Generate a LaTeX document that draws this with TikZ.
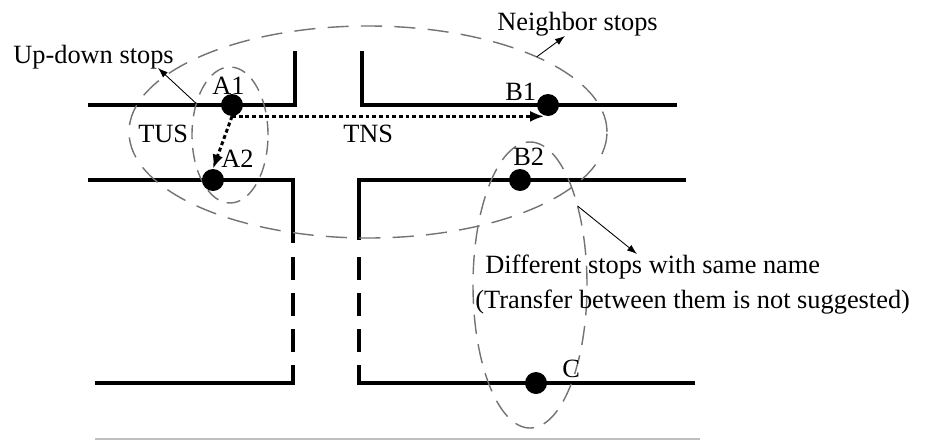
\documentclass[tikz,border=0pt]{standalone}
\usepackage{fontspec}
\setmainfont{Liberation Serif}
\usetikzlibrary{shapes.geometric,arrows.meta}
\tikzset{
  road/.style={line width=1.8pt},
  roadgap/.style={line width=1.8pt,dash pattern=on 4.6mm off 2.6mm},
  stop/.style={circle,fill,inner sep=0pt,minimum size=4.4mm},
  lbl/.style={font=\fontsize{15}{18}\selectfont,inner sep=0pt},
  ring/.style={ellipse,draw=black!55,line width=0.8pt,inner sep=0pt,outer sep=0pt},
  hop/.style={line width=1.7pt,dash pattern=on 2.2pt off 1.6pt,-{Latex[length=2.8mm,width=2.2mm]}},
  pointer/.style={line width=0.5pt,-{Latex[length=2mm,width=1.4mm]}}
}
\begin{document}
\begin{tikzpicture}[x=0.2mm,y=-0.2mm]
  \useasboundingbox (0,0) rectangle (925,442);
  % roads
  \draw[road] (88,105) -- (295,105) -- (295,51);
  \draw[road] (362,51) -- (362,105) -- (677,105);
  \draw[road] (88,180) -- (293,180) -- (293,243);
  \draw[road] (686,180) -- (359,180) -- (359,240);
  \draw[roadgap] (293,257) -- (293,365);
  \draw[roadgap] (359,257) -- (359,365);
  \draw[road] (95,383) -- (293,383) -- (293,365);
  \draw[road] (695,383) -- (359,383) -- (359,365);
  \draw[black!25,line width=0.8pt] (95,439) -- (700,439);

  \node[ring,dash pattern=on 12pt off 7pt,minimum width=95.6mm,minimum height=42.4mm] (nbring) at (368,132) {};
  \node[ring,dash pattern=on 8pt off 5pt,minimum width=15.2mm,minimum height=27.2mm] (udring) at (230,135) {};
  \node[ring,dash pattern=on 11pt off 6pt,minimum width=22.8mm,minimum height=57.2mm] (samering) at (530,285) {};

  \node[stop] (a1) at (232,105) {};
  \node[stop] (a2) at (213,180) {};
  \node[stop] (b1) at (548,105) {};
  \node[stop] (b2) at (520,180) {};
  \node[stop] (c) at (536,383) {};
  \node[lbl,anchor=base west] (a1l) at (212,94) {A1};
  \node[lbl,anchor=base west] (a2l) at (221,167) {A2};
  \node[lbl,anchor=base west] (b1l) at (505,100) {B1};
  \node[lbl,anchor=base west] (b2l) at (513,165) {B2};
  \node[lbl,anchor=base west] (cl) at (562,377) {C};
  \node[lbl,anchor=base west] (tus) at (138,142) {TUS};
  \node[lbl,anchor=base west] (tns) at (343,142) {TNS};

  \draw[hop] (a1.south) -- (a2.north);
  \draw[hop] (a1.south) -- (a1.south -| b1.250);

  \node[lbl,anchor=base west] (udtext) at (13,63) {Up-down stops};
  \node[lbl,anchor=base west] (nbtext) at (497,30) {Neighbor stops};
  \node[lbl,anchor=base west] (sametext1) at (485,273) {Different stops with same name};
  \node[lbl,anchor=base west] (sametext2) at (475,308) {(Transfer between them is not suggested)};
  \coordinate (udtip) at (158,68);
  \coordinate (nbtip) at (565,36);
  \coordinate (sametip) at (637,254);
  \draw[pointer] (udring.137) -- (udtip);
  \draw[pointer] (nbring.24.5) -- (nbtip);
  \draw[pointer] (samering.59.6) -- (sametip);
\end{tikzpicture}
\end{document}
